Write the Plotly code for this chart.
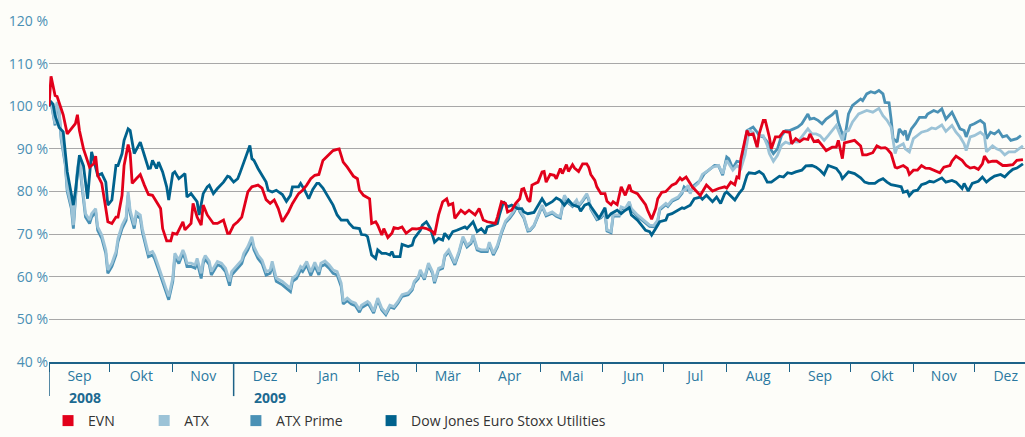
import plotly.graph_objects as go
import pandas as pd

START = pd.Timestamp("2008-09-01")
END = pd.Timestamp("2009-12-26")

# --- data: days since 2008-09-01 and index value in % ---
evn_days = [0, 1, 3, 4, 6, 7, 9, 11, 13, 14, 15, 17, 19, 20, 22, 23, 24, 26, 28, 29, 31, 33, 34, 36, 37, 39, 40,
            41, 43, 45, 47, 49, 51, 53, 55, 56, 58, 60, 61, 63, 66, 67, 70, 71, 73, 75, 76, 78, 81, 83, 86, 88, 89,
            91, 93, 95, 97, 98, 100, 103, 105, 107, 109, 111, 113, 115, 118, 120, 123, 125, 127, 129, 131, 133, 135,
            137, 140, 142, 143, 145, 147, 150, 152, 153, 155, 158, 159, 161, 162, 164, 165, 167, 169, 170, 172, 174,
            176, 179, 181, 184, 186, 189, 190, 192, 194, 196, 197, 199, 200, 203, 205, 207, 210, 212, 214, 216, 220,
            221, 223, 225, 226, 228, 230, 232, 233, 234, 236, 237, 238, 241, 243, 244, 245, 247, 249, 250, 252, 253,
            255, 256, 258, 259, 261, 263, 265, 266, 267, 269, 270, 272, 274, 275, 277, 278, 280, 282, 284, 286, 287,
            290, 292, 294, 295, 297, 299, 300, 302, 304, 305, 307, 309, 311, 312, 314, 316, 317, 321, 324, 327, 330,
            333, 334, 336, 338, 339, 340, 341, 344, 345, 347, 349, 350, 352, 353, 355, 356, 358, 360, 362, 365, 366,
            368, 370, 372, 374, 375, 377, 379, 381, 383, 386, 388, 389, 391, 392, 395, 397, 400, 401, 403, 406, 408,
            410, 412, 413, 415, 417, 418, 421, 423, 424, 426, 428, 430, 432, 434, 436, 439, 441, 444, 445, 447, 450,
            452, 454, 456, 458, 460, 461, 463, 465, 467, 470, 472, 475, 477, 480]
evn_vals = [100, 107, 102.5, 102.3, 99.4, 98, 93.5, 94.7, 95.9, 98, 94.3, 90, 86.9, 85.7, 86.5, 88.3, 83.8, 81.9,
            76, 72.9, 72.5, 74, 74, 79.1, 86.1, 91, 88.9, 81.9, 83, 84, 81.5, 79.3, 79.1, 77.6, 76, 71.3, 68.4, 68.4,
            70.2, 70, 72.9, 71, 72.5, 77.2, 74, 72.1, 76.8, 74.5, 72.5, 72.5, 73.3, 70.2, 70.2, 72.1, 72.9, 74, 78,
            79.9, 81.1, 81.5, 80.8, 78.1, 77.2, 78, 76, 72.9, 75.2, 77.2, 79.5, 80.3, 81.5, 83, 83.8, 84, 87.3, 88.3,
            89.6, 89.9, 90, 86.9, 85.7, 83.6, 83, 80.3, 79.1, 78.3, 72.5, 72.9, 72.1, 69.8, 71.3, 69.2, 70.2, 71.5,
            71.3, 71.7, 70.2, 71.3, 71.2, 71.5, 71.3, 70.6, 69.8, 74.5, 77.6, 78.3, 76.8, 77.2, 73.7, 75.6, 74.8,
            75.6, 74.5, 76, 73.3, 72.9, 72.5, 74, 77.6, 77.2, 75.2, 75.6, 77.2, 78.3, 80.5, 80.7, 78, 77.6, 81.5,
            82.2, 84.6, 84.7, 82.2, 84, 83.8, 83, 85.4, 84.2, 86.3, 84.7, 86.3, 85.5, 84.7, 86.5, 86.5, 85.7, 84,
            82.6, 81.1, 79.5, 79.5, 77.7, 76.9, 77.6, 76.9, 81.1, 79.1, 81.6, 80.1, 79.5, 78.3, 76.9, 75.6, 73.5,
            76, 78.3, 79.8, 80, 80.5, 81.5, 81.9, 83.2, 82.7, 83.4, 81.9, 81.1, 79.1, 81.5, 80.1, 80.7, 81.1, 80.8,
            82.2, 81.6, 83.4, 83.2, 87.7, 94.3, 93.3, 93.5, 90.4, 93.5, 96.7, 96.7, 92.8, 90, 92.8, 92.8, 94.1, 93.9,
            91.2, 92.4, 91.7, 92.4, 92.2, 93.5, 91.7, 92, 90.8, 89.6, 90.4, 90.4, 92, 87.7, 91.4, 91.7, 92, 90.7,
            88.6, 88.6, 89.1, 90.7, 90.2, 90.3, 90, 88.9, 85.7, 85.5, 86.1, 85.4, 84, 85, 85, 86.1, 85.5, 85.4, 85,
            84.4, 85.7, 86.1, 87.1, 88.3, 87.3, 86.1, 85.5, 85.7, 85.2, 86.5, 88.3, 86.9, 87.1, 87.1, 86.1, 86.1,
            86.3, 87.3, 87.5]

atx_days = [0, 1, 3, 4, 5, 6, 8, 9, 11, 12, 14, 15, 16, 18, 20, 21, 23, 24, 26, 28, 29, 31, 33, 34, 36, 38, 39, 40,
            42, 43, 45, 46, 48, 49, 51, 52, 54, 56, 58, 59, 61, 62, 64, 66, 67, 68, 70, 72, 73, 75, 76, 77, 79, 80,
            83, 85, 87, 89, 90, 93, 95, 96, 98, 100, 101, 103, 105, 107, 109, 110, 112, 115, 116, 119, 120, 122, 124,
            125, 127, 129, 131, 133, 134, 136, 138, 140, 142, 144, 145, 147, 149, 151, 153, 154, 157, 158, 160, 162,
            164, 166, 168, 170, 172, 174, 177, 179, 180, 182, 183, 185, 187, 189, 190, 192, 194, 195, 197, 199, 200,
            202, 204, 206, 208, 209, 211, 213, 216, 217, 219, 221, 223, 225, 227, 229, 231, 232, 234, 236, 237, 239,
            241, 243, 245, 248, 250, 252, 254, 256, 258, 260, 261, 263, 265, 266, 267, 270, 272, 274, 275, 277, 278,
            281, 282, 284, 286, 287, 290, 292, 294, 296, 298, 300, 301, 304, 305, 307, 310, 312, 314, 315, 316, 317,
            320, 322, 325, 327, 330, 332, 334, 335, 337, 339, 341, 343, 345, 347, 349, 350, 352, 354, 355, 357, 359,
            361, 363, 365, 367, 369, 371, 374, 376, 378, 380, 382, 384, 386, 388, 391, 392, 394, 396, 399, 401, 403,
            406, 409, 411, 413, 415, 417, 418, 421, 422, 424, 426, 428, 430, 433, 435, 437, 440, 442, 445, 447, 449,
            451, 452, 454, 456, 459, 461, 462, 465, 467, 469, 471, 473, 476, 478, 480]
atx_vals = [100, 101, 95.9, 101, 99, 92.8, 86.9, 80.7, 76.8, 72.1, 85.4, 88.1, 83, 74.8, 73.3, 74.8, 76, 71.7, 69.8,
            66.3, 61.6, 63.2, 65.9, 69, 72.1, 74, 79.9, 75.6, 72.1, 75.2, 74.5, 71.3, 67.4, 65.5, 65.9, 65.1, 62.4,
            59.7, 56.5, 55.4, 59.7, 65.5, 63.9, 66.3, 65.1, 63.2, 63.2, 62.8, 64.3, 60.8, 63.9, 65, 63.6, 61.2, 63.6,
            63.2, 62, 58.9, 61.2, 62.8, 63.9, 65.5, 67.1, 69.4, 67.1, 65.1, 63.9, 61.2, 61.6, 63.6, 59.7, 58.9, 58.5,
            57.3, 59.7, 60.4, 62.4, 62, 63.6, 61.1, 63.4, 61.2, 63.2, 63.7, 62.8, 61.6, 61.2, 58.5, 54.2, 55, 54.2,
            53.8, 52.3, 53.3, 54.2, 53.8, 51.9, 55, 52.6, 51.5, 53.3, 53, 54.2, 55.8, 56.2, 57.3, 58.9, 60, 61.6,
            59.7, 63.2, 61.2, 58.9, 62, 62.4, 65.1, 66.3, 64.3, 63.2, 65.9, 69.4, 67.4, 68.2, 69.9, 66.7, 66.3, 66.3,
            68.1, 65.5, 67.4, 70.6, 73.1, 74.1, 75.4, 77.2, 75.6, 74.1, 71, 71, 72.1, 74.5, 76.8, 74.6, 75.2, 74.5,
            74.1, 79.1, 77.6, 76.8, 78, 76.8, 78, 79.5, 78.3, 76.2, 73.7, 74.1, 75.2, 71, 70.6, 74.5, 74.5, 76.4, 76,
            77.6, 76, 74.5, 73.7, 72.9, 72.1, 72, 73.3, 76, 77.2, 76.8, 78, 78.7, 79.9, 80.7, 81.5, 79.5, 80.7, 81.9,
            84, 85, 85.7, 86.1, 84.2, 87.3, 86.5, 85, 86.1, 85.4, 88.5, 94.3, 93.9, 90.4, 93.1, 93.1, 90.8, 88.9,
            87.1, 88.5, 90.8, 91.6, 91.2, 91.7, 91.6, 92.8, 94.7, 93.5, 93.5, 93.1, 92, 93.1, 94.3, 95.5, 92, 93.9,
            94.3, 96.3, 98.2, 98.6, 99, 98.6, 99.5, 97.8, 96.7, 95.1, 88.9, 90.4, 91.2, 90, 89.3, 92.4, 93.1, 93.9,
            94.3, 94.9, 94.7, 95.6, 94.1, 95.5, 93.9, 92.8, 91.2, 89.6, 92.8, 93.1, 93.9, 93.1, 89.3, 90.7, 90, 89.6,
            88.6, 89.3, 89.3, 90, 90.7]

atxp_days = [0, 1, 3, 4, 5, 6, 8, 9, 11, 12, 14, 15, 16, 18, 20, 21, 23, 24, 26, 28, 29, 31, 33, 34, 36, 38, 39, 40,
             42, 43, 45, 46, 48, 49, 51, 52, 54, 56, 58, 59, 61, 62, 64, 66, 67, 68, 70, 72, 73, 75, 76, 77, 79, 80,
             83, 85, 87, 89, 90, 93, 95, 96, 98, 100, 101, 103, 105, 107, 109, 110, 112, 115, 116, 119, 120, 122,
             124, 125, 127, 129, 131, 133, 134, 136, 138, 140, 142, 144, 145, 147, 149, 151, 153, 154, 157, 158, 160,
             162, 164, 166, 168, 170, 172, 174, 177, 179, 180, 182, 183, 185, 187, 189, 190, 192, 194, 195, 197, 199,
             200, 202, 204, 206, 208, 209, 211, 213, 216, 217, 219, 221, 223, 225, 227, 229, 231, 232, 234, 236, 237,
             239, 241, 243, 245, 248, 250, 252, 254, 256, 258, 260, 261, 263, 265, 266, 267, 270, 272, 274, 275, 277,
             278, 281, 282, 284, 286, 287, 290, 292, 294, 296, 298, 300, 301, 304, 305, 307, 310, 312, 313, 316, 318,
             321, 323, 326, 328, 330, 332, 334, 335, 337, 339, 341, 342, 344, 347, 349, 350, 352, 354, 355, 357, 359,
             361, 363, 365, 367, 369, 371, 374, 375, 377, 379, 381, 383, 386, 388, 389, 392, 394, 396, 398, 400, 401,
             403, 405, 407, 409, 411, 412, 414, 415, 416, 418, 419, 421, 422, 423, 425, 427, 429, 432, 433, 436, 438,
             440, 442, 445, 447, 449, 451, 452, 454, 456, 459, 461, 462, 464, 466, 468, 470, 472, 474, 477, 479]
atxp_vals = [100, 101, 95.5, 100.6, 98.6, 92.3, 86.3, 80, 76, 71.3, 84.6, 87.3, 82.2, 74, 72.5, 74, 75.2, 70.9, 69,
             65.5, 60.8, 62.4, 65.1, 68.2, 71.3, 73.2, 79.1, 74.8, 71.3, 74.4, 73.7, 70.5, 66.6, 64.7, 65.1, 64.3,
             61.6, 58.9, 55.7, 54.6, 58.9, 64.7, 63.1, 65.5, 64.3, 62.4, 62.4, 62, 63.5, 59.6, 63.1, 64.2, 62.8, 60.4,
             62.8, 62.4, 61.2, 57.9, 60.4, 62, 63.1, 64.7, 66.3, 68.6, 66.3, 64.3, 63.1, 60.4, 60.8, 62.8, 58.9, 58.1,
             57.7, 56.5, 58.9, 59.6, 61.6, 61.2, 62.8, 60.3, 62.6, 60.4, 62.4, 62.9, 62, 60.8, 60.4, 57.7, 53.6, 54.4,
             53.6, 53.2, 51.7, 52.7, 53.6, 53.2, 51.5, 54.6, 52.2, 51.1, 52.9, 52.6, 53.8, 55.4, 55.8, 56.9, 58.5,
             59.6, 61.2, 59.3, 62.8, 60.8, 58.5, 61.6, 62, 64.7, 65.9, 63.9, 62.8, 65.5, 69, 67, 67.8, 69.5, 66.3,
             65.9, 65.9, 67.7, 65.1, 67, 70.2, 72.7, 73.7, 75, 76.8, 75.3, 73.8, 70.7, 70.8, 71.9, 74.2, 76.5, 74.3,
             74.9, 74.2, 73.8, 78.8, 77.3, 76.5, 77.7, 76.5, 77.7, 79.2, 78, 75.9, 73.4, 73.8, 74.9, 70.7, 70.3, 74.2,
             74.2, 76.1, 75.7, 77.3, 75.7, 74.2, 73.4, 72.6, 71.8, 71.7, 73, 75.7, 76.9, 76.5, 77.7, 78.4, 79.6, 81.1,
             79.9, 81.5, 82.6, 84.2, 85.4, 86.1, 86, 83.8, 88.1, 87.7, 85.4, 87.1, 86.9, 88.9, 94.3, 95.1, 93.9, 93.1,
             92.8, 91.6, 90.4, 88.9, 90, 93.1, 94.3, 94.3, 94.7, 95.1, 95.9, 98.2, 97, 97.2, 96.7, 95.9, 97, 98, 99,
             96.3, 92, 98.2, 100.2, 100.9, 101.7, 101.3, 102.9, 103.4, 103.1, 103.7, 102.9, 100.9, 100.8, 97, 92.4,
             91.6, 94.7, 93.5, 94.3, 92, 94.7, 95.9, 97.4, 97.4, 98.2, 99, 98.6, 99.4, 97, 98.6, 96.7, 94.7, 94.3,
             92.8, 95.5, 95.9, 96.7, 95.9, 92.4, 93.9, 93.5, 94.3, 92.8, 93.1, 92, 92.4, 93.1]

dj_days = [0, 1, 2, 3, 5, 7, 9, 12, 13, 15, 17, 19, 21, 24, 26, 28, 29, 31, 33, 34, 36, 37, 39, 40, 42, 44, 45, 47,
           49, 50, 51, 53, 54, 56, 58, 59, 61, 62, 64, 66, 67, 68, 70, 73, 74, 76, 78, 79, 81, 83, 86, 88, 89, 91, 93,
           94, 96, 98, 99, 100, 101, 103, 105, 107, 108, 110, 112, 115, 117, 119, 120, 123, 124, 126, 128, 130, 132,
           133, 135, 138, 140, 142, 144, 147, 148, 150, 153, 154, 156, 157, 159, 161, 162, 164, 166, 168, 169, 170,
           173, 174, 177, 179, 180, 183, 184, 186, 188, 190, 192, 194, 195, 197, 199, 201, 203, 205, 206, 209, 211,
           213, 215, 216, 219, 221, 222, 224, 226, 228, 231, 233, 234, 236, 239, 241, 243, 245, 248, 250, 252, 254,
           256, 258, 261, 262, 264, 266, 269, 271, 272, 274, 275, 277, 280, 282, 284, 286, 287, 290, 292, 294, 296,
           297, 299, 301, 304, 305, 307, 310, 312, 313, 316, 318, 321, 322, 324, 327, 329, 331, 333, 334, 336, 338,
           340, 342, 344, 345, 348, 350, 352, 354, 356, 358, 360, 362, 364, 366, 368, 371, 373, 376, 378, 380, 382,
           384, 386, 388, 390, 391, 394, 397, 400, 402, 404, 407, 409, 411, 413, 415, 418, 420, 421, 423, 424, 426,
           428, 430, 432, 434, 436, 439, 440, 442, 445, 447, 450, 451, 453, 455, 458, 460, 462, 464, 466, 469, 471,
           473, 475, 477, 480]
dj_vals = [100, 101, 100.5, 97.8, 95, 94, 84.6, 76.8, 80, 88.5, 86, 78.3, 89.3, 83.8, 84.2, 82.2, 76.8, 78, 86.1,
           86.1, 88.9, 92, 94.7, 94.3, 88.9, 90.8, 91.6, 88.5, 85.4, 85.5, 87.3, 85.4, 86.9, 84.6, 81.1, 78, 84.2,
           84.6, 83, 83.8, 84.2, 78.7, 79.5, 77.6, 74.5, 79.5, 81.1, 81.5, 79.5, 80.7, 82.2, 83.6, 83.4, 82.2, 83,
           84.2, 86.9, 89.3, 90.8, 87.7, 87.3, 85.4, 83.8, 82.2, 80.3, 79.9, 80.3, 79.3, 77.7, 79.1, 81.1, 81.1,
           81.9, 80.3, 78.3, 80.5, 81.9, 81.9, 80.8, 78.3, 76.8, 74.5, 73.3, 73.3, 72.5, 71.5, 71.3, 69.9, 69.8,
           69.4, 65.1, 64.3, 66.3, 65.5, 65.5, 65.1, 65.9, 64.7, 64.7, 67.6, 67.1, 67.4, 69, 70.9, 72.1, 72.9, 71.3,
           68.1, 69, 68.6, 70.2, 69, 70.6, 70.9, 71.3, 71.7, 71.3, 72.9, 70.6, 71.3, 70.2, 71.7, 72.1, 72.5, 74.5,
           77.6, 76.4, 76.8, 76, 76, 75.2, 74.8, 75.1, 76.8, 78.3, 76.8, 77.6, 78.5, 78, 76.8, 78, 76.9, 76.4, 75.4,
           76.8, 77.2, 75.2, 73.8, 74.5, 76.2, 73.7, 74.8, 75.6, 74.8, 75.6, 76.2, 74.5, 73.3, 72.1, 70.9, 70.6,
           69.8, 71.3, 72.9, 73.3, 74.5, 74.8, 75.6, 76.2, 76, 76.8, 78.3, 78.7, 78.2, 79.1, 77.6, 78.7, 77.2, 79.5,
           79.9, 79, 78, 79.5, 80.7, 83.8, 84.4, 84.2, 84.7, 84, 82.2, 82.2, 83, 83.6, 83.4, 84.4, 84.2, 84.6, 85,
           86, 86.1, 85.7, 85, 84, 86.1, 85.7, 85.4, 84.2, 83, 84.6, 84.2, 83.2, 82.2, 81.9, 81.9, 82.6, 83, 82.2,
           81.6, 81.3, 81.1, 79.8, 80.1, 79, 80.1, 80.3, 81.6, 81.9, 82.4, 82.2, 83, 83.2, 82.2, 82.6, 82.2, 80.7,
           81.9, 80.1, 81.9, 82.4, 83.4, 82.2, 83, 83.6, 84, 83.4, 84.4, 85.2, 85.5, 86.5]

month_labels = ["Sep", "Okt", "Nov", "Dez", "Jan", "Feb", "Mär", "Apr", "Mai", "Jun", "Jul", "Aug",
                "Sep", "Okt", "Nov", "Dez"]
year_labels = ["2008", "2009"]
y_ticks = [40, 50, 60, 70, 80, 90, 100, 110, 120]

series = [
    ("ATX Prime", atxp_days, atxp_vals, "#4a91b5"),
    ("ATX", atx_days, atx_vals, "#9cc3d7"),
    ("Dow Jones Euro Stoxx Utilities", dj_days, dj_vals, "#00628d"),
    ("EVN", evn_days, evn_vals, "#e2001a"),
]
legend_order = ["EVN", "ATX", "ATX Prime", "Dow Jones Euro Stoxx Utilities"]
legend_x = [-0.001, 0.0975, 0.1915, 0.33]


def to_dates(days):
    return [START + pd.Timedelta(days=int(d)) for d in days]


fig = go.Figure()
colors = {}
for name, d, v, c in series:
    colors[name] = c
    fig.add_trace(go.Scatter(x=to_dates(d), y=v, mode="lines", name=name,
                             line=dict(color=c, width=2.8), showlegend=False,
                             hoverinfo="skip"))

legend_font = dict(family="Open Sans", size=14, color="#333333")
legend_layout = {}
for i, name in enumerate(legend_order):
    key = "legend" if i == 0 else f"legend{i + 1}"
    fig.add_trace(go.Scatter(x=[None], y=[None], mode="markers", name=name,
                             marker=dict(symbol="square", size=11, color=colors[name]),
                             legend=key))
    legend_layout[key] = dict(orientation="h", x=legend_x[i], xanchor="left",
                              yref="container", y=-0.016, yanchor="bottom",
                              font=legend_font, itemwidth=30,
                              bgcolor="rgba(0,0,0,0)")

month_starts = pd.date_range("2008-09-01", periods=17, freq="MS")
mid_months = [month_starts[i] + (month_starts[i + 1] - month_starts[i]) / 2 for i in range(16)]

axis_col = "#1d6288"
fig.update_xaxes(
    type="date", range=[START, END], automargin=False,
    tickmode="array", tickvals=mid_months, ticktext=month_labels,
    ticks="", showgrid=False, zeroline=False,
    showline=True, linecolor=axis_col, linewidth=1.5,
    tickfont=dict(family="Open Sans", size=14, color="#2a78a0"),
    minor=dict(tickmode="linear", tick0="2008-09-01", dtick="M1", ticks="outside",
               ticklen=8, tickcolor=axis_col, tickwidth=1, showgrid=False),
)
fig.update_yaxes(
    range=[40, 120], tickmode="array", tickvals=y_ticks, automargin=False,
    ticktext=[f"{t} %" for t in y_ticks],
    showgrid=True, gridcolor="#a8a8a8", gridwidth=1, zeroline=False,
    showline=False, ticks="",
    tickfont=dict(family="Open Sans", size=14, color="#4a8fb4"),
)

# year separators and year labels
for ystart, lab in zip(["2008-09-01", "2008-12-01"], year_labels):
    fig.add_shape(type="line", xref="x", yref="paper", x0=ystart, x1=ystart,
                  y0=0, y1=-0.1, line=dict(color=axis_col, width=1.5))
    fig.add_annotation(x=pd.Timestamp(ystart) + pd.Timedelta(days=9), y=-0.103,
                       xref="x", yref="paper", text=f"<b>{lab}</b>", showarrow=False,
                       xanchor="left", yanchor="middle",
                       font=dict(family="Open Sans", size=14, color="#1d6a91"))

fig.update_layout(
    width=1025, height=437,
    margin=dict(l=49, r=0, t=21, b=75),
    paper_bgcolor="#fdfdf9", plot_bgcolor="#fdfdf9",
    showlegend=True,
    **legend_layout,
)

fig.write_html(
    "out.html",
    config={"displayModeBar": False},
    post_script="document.body.style.margin='0';document.body.style.overflow='hidden';",
)
